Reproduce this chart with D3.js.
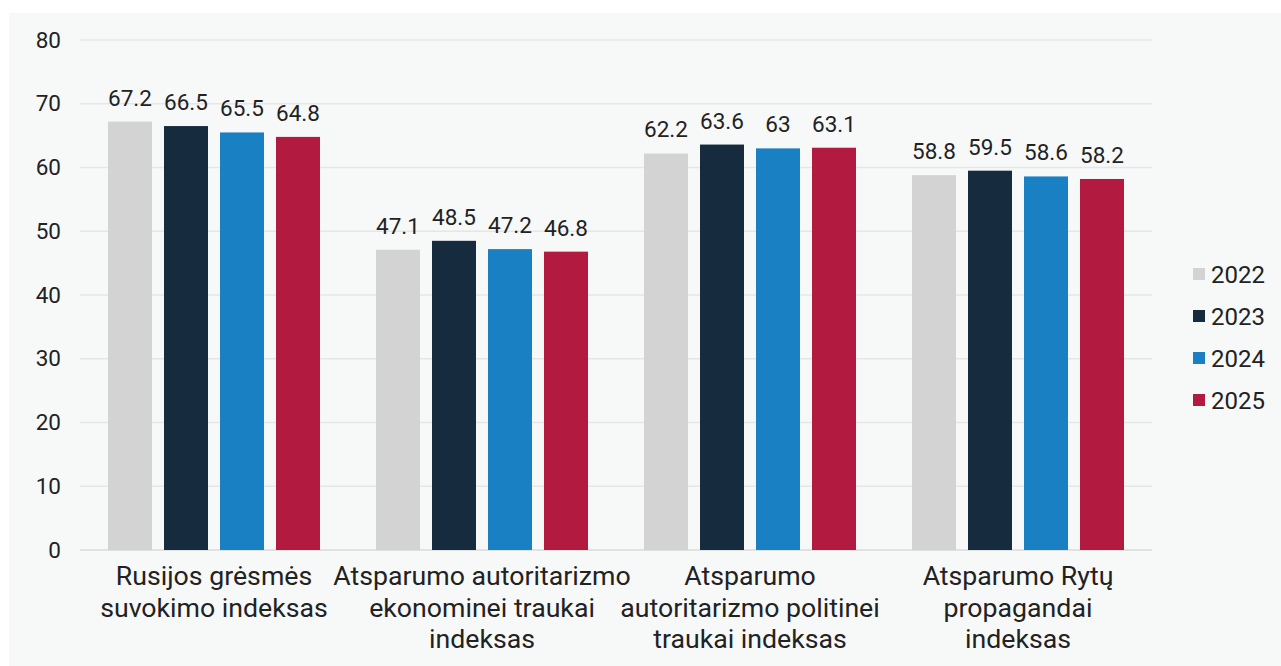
<!DOCTYPE html>
<html>
<head>
<meta charset="utf-8">
<script src="https://cdn.jsdelivr.net/npm/d3@7"></script>
<style>
  body { margin: 0; background: #fff; }
  svg { display: block; font-family: Roboto, sans-serif; }
</style>
</head>
<body>
<div id="chart"></div>
<script>
const categories = [
  ["Rusijos grėsmės", "suvokimo indeksas"],
  ["Atsparumo autoritarizmo", "ekonominei traukai", "indeksas"],
  ["Atsparumo", "autoritarizmo politinei", "traukai indeksas"],
  ["Atsparumo Rytų", "propagandai", "indeksas"]
];
const years = ["2022", "2023", "2024", "2025"];
const colors = ["#d3d3d3", "#162b3d", "#1a80c4", "#b31a40"];
const values2022 = [67.2, 47.1, 62.2, 58.8];
const values2023 = [66.5, 48.5, 63.6, 59.5];
const values2024 = [65.5, 47.2, 63, 58.6];
const values2025 = [64.8, 46.8, 63.1, 58.2];
const yTicks = [0, 10, 20, 30, 40, 50, 60, 70, 80];

const series = [values2022, values2023, values2024, values2025];

const W = 1281, H = 666;
const margin = {top: 40, right: 129, bottom: 116, left: 80};
const width = W - margin.left - margin.right,
      height = H - margin.top - margin.bottom;

const svg = d3.select("#chart").append("svg")
  .attr("width", W).attr("height", H);

svg.append("rect")
  .attr("x", 9).attr("y", 13)
  .attr("width", W - 9).attr("height", H - 13)
  .attr("fill", "#f7f9f9");

const g = svg.append("g")
  .attr("transform", "translate(" + margin.left + "," + margin.top + ")");

const x0 = d3.scaleBand()
  .domain(d3.range(categories.length))
  .range([0, width])
  .paddingInner(0.209)
  .paddingOuter(0.1045);

const x1 = d3.scaleBand()
  .domain(years)
  .range([0, x0.bandwidth()])
  .paddingInner(12 / 56);

const y = d3.scaleLinear().domain([0, 80]).range([height, 0]);

// gridlines
g.selectAll(".grid")
  .data(yTicks)
  .enter().append("line")
  .attr("x1", 0).attr("x2", width)
  .attr("y1", d => y(d)).attr("y2", d => y(d))
  .attr("stroke", d => d === 0 ? "#d9d9d9" : "#e6e6e6")
  .attr("stroke-width", 1.5);

// y axis labels
const yAxis = g.append("g")
  .call(d3.axisLeft(y).tickValues(yTicks).tickSize(0).tickPadding(19));
yAxis.select(".domain").remove();
yAxis.selectAll("text")
  .attr("font-size", 22.5)
  .attr("font-family", "Roboto, sans-serif")
  .attr("fill", "#222");

// bars
const groups = g.selectAll(".grp")
  .data(categories)
  .enter().append("g")
  .attr("transform", (d, i) => "translate(" + x0(i) + ",0)");

years.forEach((yr, s) => {
  groups.append("rect")
    .attr("x", x1(yr))
    .attr("y", (d, i) => y(series[s][i]))
    .attr("width", x1.bandwidth())
    .attr("height", (d, i) => height - y(series[s][i]))
    .attr("fill", colors[s]);

  groups.append("text")
    .attr("x", x1(yr) + x1.bandwidth() / 2)
    .attr("y", (d, i) => y(series[s][i]) - 16)
    .attr("text-anchor", "middle")
    .attr("font-size", 22.5)
    .attr("fill", "#222")
    .text((d, i) => series[s][i]);
});

// category labels
groups.append("text")
  .attr("x", x0.bandwidth() / 2)
  .attr("y", height + 35)
  .attr("text-anchor", "middle")
  .attr("font-size", 26.7)
  .attr("fill", "#222")
  .selectAll("tspan")
  .data(d => d)
  .enter().append("tspan")
  .attr("x", x0.bandwidth() / 2)
  .attr("dy", (d, i) => i === 0 ? 0 : 31.5)
  .text(d => d);

// legend
const legend = svg.append("g")
  .attr("transform", "translate(1193,274)");
years.forEach((yr, i) => {
  const row = legend.append("g").attr("transform", "translate(0," + i * 42 + ")");
  row.append("rect")
    .attr("x", 0).attr("y", -6)
    .attr("width", 12).attr("height", 12)
    .attr("fill", colors[i]);
  row.append("text")
    .attr("x", 18).attr("y", 8.5)
    .attr("font-size", 24)
    .attr("fill", "#222")
    .text(yr);
});
</script>
</body>
</html>
